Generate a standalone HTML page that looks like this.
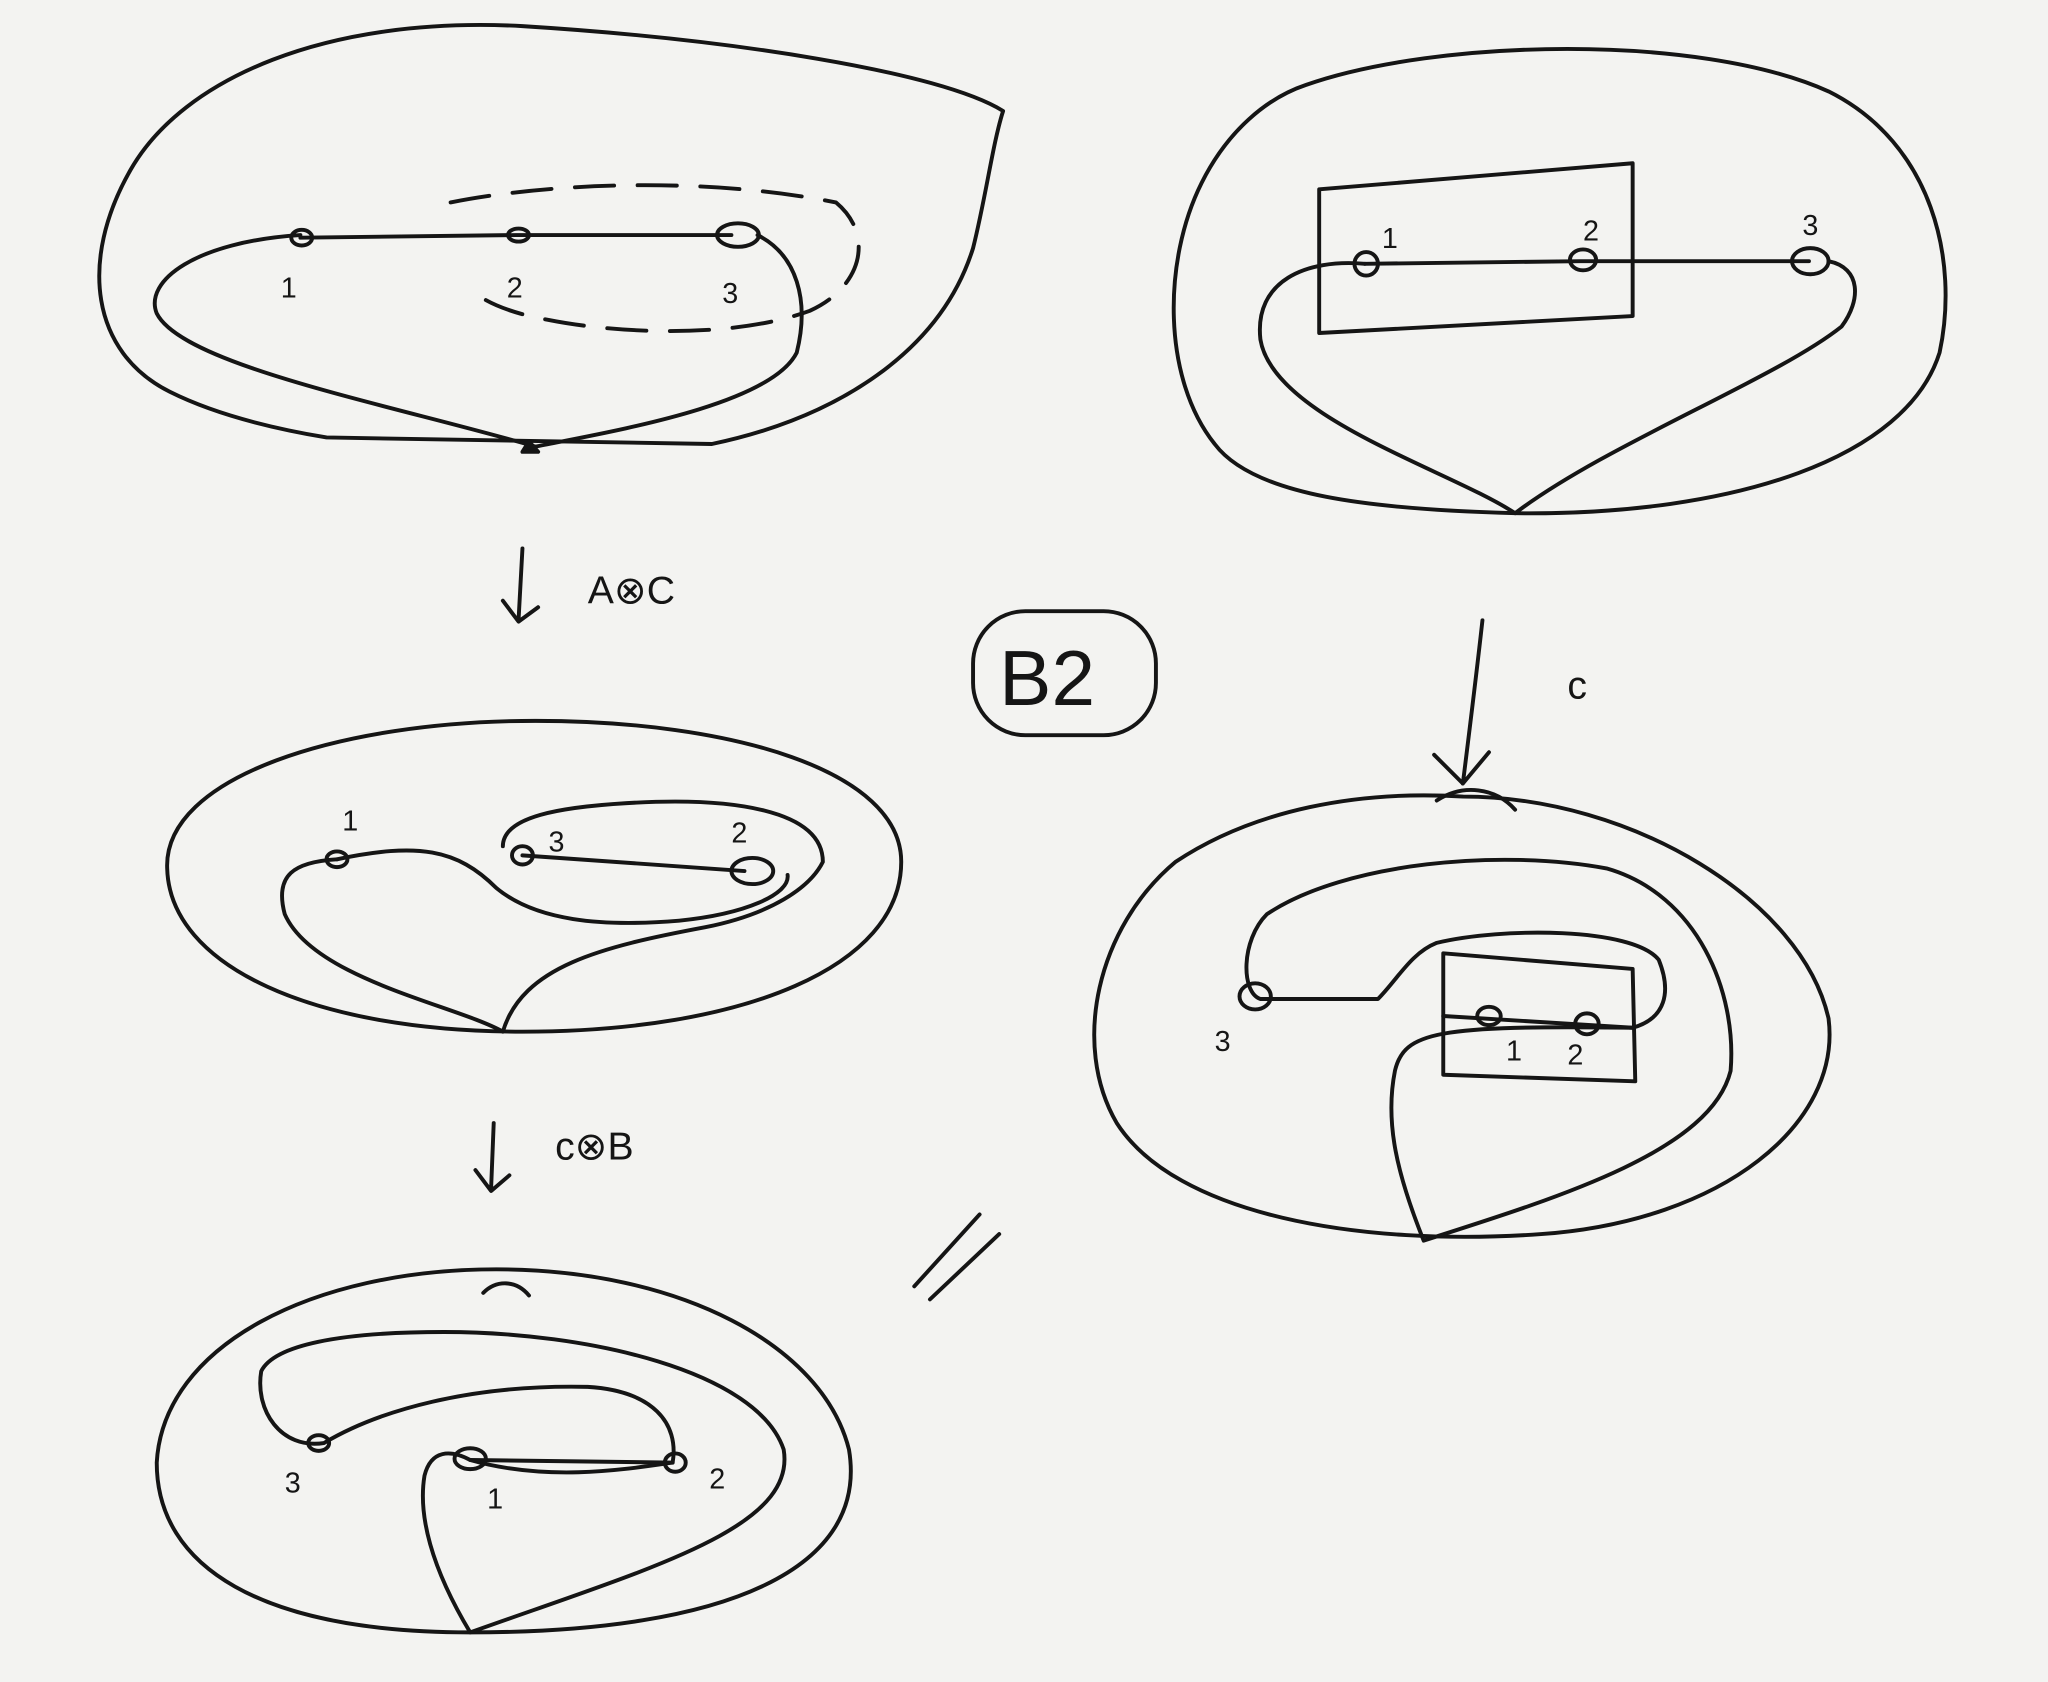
<!DOCTYPE html>
<html><head><meta charset="utf-8"><style>
html,body{margin:0;padding:0;background:#f3f3f1;}
svg{display:block}
text{font-family:"Liberation Sans",sans-serif;fill:#151515}
</style></head><body>
<svg width="2048" height="1682" viewBox="0 0 1568 1288" preserveAspectRatio="none">
<rect width="1568" height="1288" fill="#f3f3f1"/>
<g fill="none" stroke="#151515" stroke-width="3" stroke-linecap="round" stroke-linejoin="round">
<!-- top-left -->
<g>
<path d="M545,340 C640,320 720,270 745,190 C755,150 760,110 768,85 C720,55 560,30 400,20 C250,12 140,60 100,130 C60,200 70,270 130,300 C170,320 220,330 250,335 L545,340"/>
<path d="M230,180 C150,185 110,215 120,240 C140,280 300,310 410,342 C470,330 590,310 610,270 C620,230 610,195 580,180"/>
<path d="M230,182 L395,180 L560,180"/>
<ellipse cx="231" cy="182" rx="8" ry="6"/><ellipse cx="397" cy="180" rx="8" ry="5"/><ellipse cx="565" cy="180" rx="16" ry="9"/>
<path d="M345,155 C420,140 540,135 640,155 C670,180 660,220 620,238 C560,260 470,255 420,245 C390,240 370,230 365,225" stroke-dasharray="30,18"/>
<path d="M405,338 L412,346 L400,346Z" fill="#151515"/>
</g>
<!-- top-right -->
<g>
<path d="M1000,65 C1100,30 1300,25 1400,70 C1480,110 1500,200 1485,270 C1460,350 1330,395 1160,393 C1050,390 960,380 930,340 C890,290 890,200 920,140 C940,100 970,75 1000,65"/>
<path d="M1010,145 L1250,125 L1250,242 L1010,255 Z"/>
<path d="M1045,202 L1210,200 L1385,200"/>
<ellipse cx="1046" cy="202" rx="9" ry="9"/><ellipse cx="1212" cy="199" rx="10" ry="8"/><ellipse cx="1386" cy="200" rx="14" ry="10"/>
<path d="M1045,202 C1000,198 960,215 965,260 C975,320 1110,360 1160,393 C1230,340 1360,290 1410,250 C1425,230 1425,205 1400,200"/>
</g>
<!-- middle-left -->
<g>
<path d="M410,552 C560,552 690,590 690,660 C690,740 570,790 400,790 C240,790 130,740 128,665 C125,595 260,552 410,552"/>
<path d="M258,658 C225,660 210,670 218,700 C240,750 350,770 385,790 C400,740 460,725 540,710 C590,700 620,680 630,660 C630,620 560,610 480,615 C430,618 385,625 385,648"/>
<path d="M258,658 C320,645 350,650 380,680 C410,705 460,710 520,705 C570,700 605,685 603,670"/>
<path d="M400,655 L570,667"/>
<ellipse cx="258" cy="658" rx="8" ry="6"/><ellipse cx="400" cy="655" rx="8" ry="7"/><ellipse cx="576" cy="667" rx="16" ry="10"/>
</g>
<!-- middle-right -->
<g>
<path d="M1120,610 C1250,610 1380,690 1400,780 C1410,860 1320,935 1180,945 C1040,955 900,930 855,860 C820,800 840,710 900,660 C960,620 1040,605 1120,610"/>
<path d="M1090,950 C1070,900 1060,860 1068,820 C1075,790 1100,785 1250,787 C1275,780 1280,760 1270,735 C1250,710 1150,710 1100,722 C1080,730 1070,750 1055,765 L965,765 C950,760 950,720 970,700 C1030,660 1150,650 1230,665 C1300,685 1330,760 1325,820 C1310,880 1200,915 1090,950"/>
<path d="M1105,730 L1250,742 L1252,828 L1105,823 Z"/>
<path d="M1105,778 L1250,787"/>
<ellipse cx="961" cy="763" rx="12" ry="10"/><ellipse cx="1140" cy="778" rx="9" ry="7"/><ellipse cx="1215" cy="784" rx="9" ry="8"/>
<path d="M1135,475 C1130,520 1125,560 1120,600 M1098,578 L1120,600 L1140,576"/>
<path d="M1100,613 C1120,600 1145,603 1160,620"/>
</g>
<!-- bottom-left -->
<g>
<path d="M380,972 C520,972 630,1030 650,1110 C665,1200 560,1250 360,1250 C200,1250 120,1200 120,1120 C125,1030 240,972 380,972"/>
<path d="M360,1250 C330,1200 320,1160 325,1130 C330,1110 345,1110 360,1118 C420,1135 480,1125 515,1120 C520,1090 500,1065 450,1062 C360,1060 290,1080 248,1105 C215,1110 195,1080 200,1050 C210,1030 260,1020 340,1020 C450,1020 580,1050 600,1110 C610,1170 500,1200 360,1250"/>
<path d="M360,1118 L515,1120"/>
<ellipse cx="360" cy="1117" rx="12" ry="8"/><ellipse cx="517" cy="1120" rx="8" ry="7"/><ellipse cx="244" cy="1105" rx="8" ry="6"/>
<path d="M370,990 C380,980 395,980 405,992"/>
</g>
<!-- arrows -->
<path d="M400,420 L397,475 M385,460 L397,476 L412,465"/>
<path d="M378,860 L376,910 M364,896 L376,912 L390,900"/>
<path d="M700,985 L750,930 M712,995 L765,945"/>
<rect x="745" y="468" width="140" height="95" rx="40"/>
</g>
<g font-size="30">
<text x="450" y="462">A⊗C</text>
<text x="425" y="888">c⊗B</text>
<text x="1200" y="535">c</text>
<text x="765" y="540" font-size="60">B2</text>
<g font-size="22">
<text x="215" y="228">1</text><text x="388" y="228">2</text><text x="553" y="232">3</text>
<text x="1058" y="190">1</text><text x="1212" y="184">2</text><text x="1380" y="180">3</text>
<text x="262" y="636">1</text><text x="420" y="652">3</text><text x="560" y="645">2</text>
<text x="930" y="805">3</text><text x="1153" y="812">1</text><text x="1200" y="815">2</text>
<text x="218" y="1143">3</text><text x="373" y="1155">1</text><text x="543" y="1140">2</text>
</g>
</g>
</svg>
</body></html>
